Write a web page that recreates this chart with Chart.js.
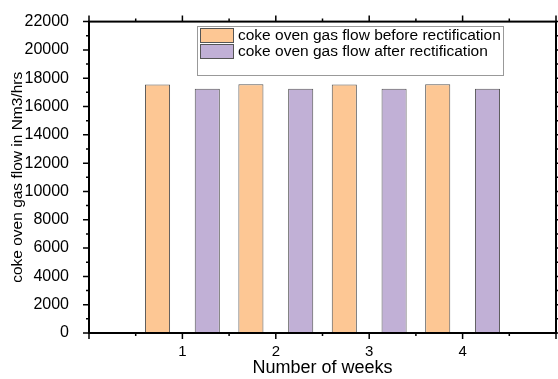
<!DOCTYPE html>
<html>
<head>
<meta charset="utf-8">
<script src="https://cdn.jsdelivr.net/npm/chart.js@4"></script>
<style>
  body { margin: 0; background: #fff; }
  #wrap { width: 558px; height: 379px; }
</style>
</head>
<body>
<div id="wrap"><canvas id="flowChart" width="558" height="379"></canvas></div>
<script>
const weeks = [1, 2, 3, 4];
const flowBefore = [17560, 17570, 17560, 17570];
const flowAfter = [17250, 17250, 17250, 17250];
const seriesNames = ['coke oven gas flow before rectification', 'coke oven gas flow after rectification'];
const seriesColors = ['#fdc794', '#c1b0d6'];

const FONT = 'Arial, "Liberation Sans", sans-serif';

// frame, minor ticks, top/right ticks and the boxed legend
const framePlugin = {
  id: 'frame',
  afterDraw(chart) {
    const ctx = chart.ctx;
    const a = chart.chartArea;
    const xs = chart.scales.x, ys = chart.scales.y;
    ctx.save();
    ctx.strokeStyle = '#000';
    ctx.lineWidth = 2;
    ctx.strokeRect(a.left, a.top, a.right - a.left, a.bottom - a.top);

    ctx.lineWidth = 1.5;
    ctx.beginPath();
    for (let v = 0; v <= 22000; v += 1000) {
      const y = ys.getPixelForValue(v);
      const len = v % 2000 === 0 ? 6 : 3;
      ctx.moveTo(a.left - len, y); ctx.lineTo(a.left, y);
      ctx.moveTo(a.right, y); ctx.lineTo(a.right + len, y);
    }
    for (let v = 0; v <= 5; v += 0.5) {
      const x = xs.getPixelForValue(v);
      const len = v % 1 === 0 ? 6 : 3;
      ctx.moveTo(x, a.bottom); ctx.lineTo(x, a.bottom + len);
      ctx.moveTo(x, a.top - len); ctx.lineTo(x, a.top);
    }
    ctx.stroke();

    // legend box
    const lx = 197, ly = 26, lw = 306, lh = 49;
    ctx.lineWidth = 1;
    ctx.strokeStyle = '#999';
    ctx.strokeRect(lx + 0.5, ly + 0.5, lw, lh);
    ctx.font = '15.5px ' + FONT;
    ctx.textBaseline = 'middle';
    seriesNames.forEach((name, i) => {
      const sy = 28 + i * 16;
      ctx.fillStyle = seriesColors[i];
      ctx.fillRect(200, sy, 33, 14);
      ctx.strokeStyle = '#555';
      ctx.strokeRect(200.5, sy + 0.5, 33, 14);
      ctx.fillStyle = '#000';
      ctx.fillText(name, 238, sy + 7.5);
    });
    ctx.restore();
  }
};

new Chart(document.getElementById('flowChart'), {
  type: 'bar',
  data: {
    datasets: [
      {
        label: seriesNames[0],
        data: weeks.map((w, i) => ({ x: w, y: flowBefore[i] })),
        backgroundColor: seriesColors[0],
        borderColor: '#555',
        borderWidth: 1
      },
      {
        label: seriesNames[1],
        data: weeks.map((w, i) => ({ x: w, y: flowAfter[i] })),
        backgroundColor: seriesColors[1],
        borderColor: '#555',
        borderWidth: 1
      }
    ]
  },
  options: {
    responsive: false,
    animation: false,
    categoryPercentage: 1.066,
    barPercentage: 0.504,
    layout: { padding: { top: 20, right: 2, left: 0, bottom: 0 } },
    plugins: {
      legend: { display: false },
      tooltip: { enabled: false }
    },
    scales: {
      x: {
        type: 'linear',
        min: 0,
        max: 5,
        offset: false,
        grid: { display: false },
        border: { display: false },
        ticks: {
          stepSize: 1,
          padding: 2,
          color: '#000',
          font: { family: FONT, size: 15 },
          callback: v => (v >= 1 && v <= 4 ? String(v) : '')
        },
        title: {
          display: true,
          text: 'Number of weeks',
          color: '#000',
          font: { family: FONT, size: 18 },
          padding: { top: 0, bottom: 0 }
        },
        afterFit(scale) { scale.height = 46; }
      },
      y: {
        min: 0,
        max: 22000,
        grid: { display: false },
        border: { display: false },
        ticks: {
          stepSize: 2000,
          padding: 12,
          color: '#000',
          font: { family: FONT, size: 16 },
          callback: v => String(v)
        },
        title: {
          display: true,
          text: 'coke oven gas flow in Nm3/hrs',
          color: '#000',
          font: { family: FONT, size: 15.5 },
          padding: { top: 8, bottom: 2 }
        },
        afterFit(scale) { scale.width = 89; }
      }
    }
  },
  plugins: [framePlugin]
});
</script>
</body>
</html>
